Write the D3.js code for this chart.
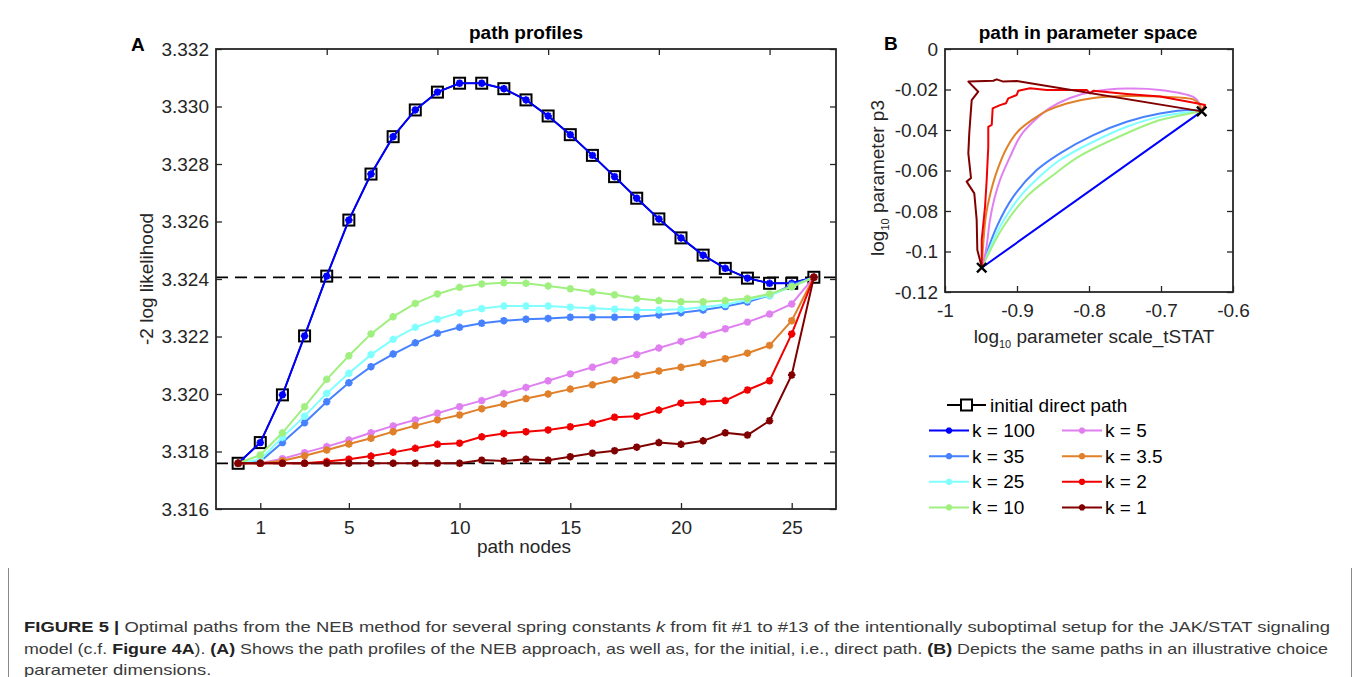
<!DOCTYPE html>
<html>
<head>
<meta charset="utf-8">
<script src="https://cdn.jsdelivr.net/npm/d3@7"></script>
<style>
  body { margin: 0; background: #fff; }
  svg { display: block; font-family: "Liberation Sans", Arial, Helvetica, sans-serif; }
</style>
</head>
<body>
<svg id="fig" width="1358" height="677"></svg>
<script>
"use strict";

// ---- panel A: path profiles ----
const nodes = [0, 1, 2, 3, 4, 5, 6, 7, 8, 9, 10, 11, 12, 13, 14, 15, 16, 17, 18, 19, 20, 21, 22, 23, 24, 25, 26];
const xTicksA = [1, 5, 10, 15, 20, 25];
const xTopTicksA = [4, 9, 14, 19, 24];
const yTicksA = [3.316, 3.318, 3.320, 3.322, 3.324, 3.326, 3.328, 3.330, 3.332];
const refLevels = [3.32406, 3.31759];

const initialPath = [3.31759, 3.31831, 3.31997, 3.32202, 3.32410, 3.32605, 3.32765, 3.32895, 3.32988, 3.33050, 3.33081, 3.33081, 3.33062, 3.33023, 3.32967, 3.32902, 3.32830, 3.32756, 3.32681, 3.32609, 3.32543, 3.32483, 3.32437, 3.32403, 3.32385, 3.32385, 3.32406];
const profK100 = [3.31759, 3.31831, 3.31997, 3.32202, 3.32410, 3.32605, 3.32765, 3.32895, 3.32988, 3.33050, 3.33081, 3.33081, 3.33062, 3.33023, 3.32967, 3.32902, 3.32830, 3.32756, 3.32681, 3.32609, 3.32543, 3.32483, 3.32437, 3.32403, 3.32385, 3.32385, 3.32406];
const profK35  = [3.31759, 3.31765, 3.31831, 3.31900, 3.31973, 3.32039, 3.32095, 3.32139, 3.32178, 3.32211, 3.32232, 3.32246, 3.32255, 3.32260, 3.32263, 3.32267, 3.32267, 3.32267, 3.32269, 3.32275, 3.32283, 3.32292, 3.32304, 3.32320, 3.32343, 3.32379, 3.32406];
const profK25  = [3.31759, 3.31772, 3.31849, 3.31923, 3.32002, 3.32072, 3.32137, 3.32190, 3.32232, 3.32260, 3.32283, 3.32297, 3.32306, 3.32306, 3.32306, 3.32302, 3.32298, 3.32295, 3.32292, 3.32292, 3.32295, 3.32302, 3.32311, 3.32327, 3.32343, 3.32373, 3.32406];
const profK10  = [3.31759, 3.31788, 3.31865, 3.31956, 3.32051, 3.32133, 3.32209, 3.32269, 3.32315, 3.32348, 3.32371, 3.32383, 3.32387, 3.32385, 3.32376, 3.32366, 3.32355, 3.32345, 3.32332, 3.32325, 3.32321, 3.32321, 3.32325, 3.32332, 3.32348, 3.32373, 3.32406];
const profK5   = [3.31759, 3.31759, 3.31775, 3.31796, 3.31817, 3.31840, 3.31865, 3.31889, 3.31910, 3.31933, 3.31956, 3.31977, 3.32002, 3.32023, 3.32046, 3.32070, 3.32093, 3.32116, 3.32137, 3.32160, 3.32183, 3.32205, 3.32227, 3.32250, 3.32278, 3.32313, 3.32406];
const profK3p5 = [3.31759, 3.31759, 3.31768, 3.31785, 3.31805, 3.31826, 3.31846, 3.31869, 3.31890, 3.31910, 3.31927, 3.31949, 3.31965, 3.31984, 3.32000, 3.32017, 3.32032, 3.32049, 3.32065, 3.32080, 3.32093, 3.32107, 3.32123, 3.32142, 3.32169, 3.32255, 3.32406];
const profK2   = [3.31759, 3.31759, 3.31759, 3.31759, 3.31765, 3.31773, 3.31784, 3.31797, 3.31811, 3.31825, 3.31829, 3.31851, 3.31863, 3.31869, 3.31875, 3.31886, 3.31898, 3.31919, 3.31923, 3.31944, 3.31968, 3.31973, 3.31977, 3.32014, 3.32046, 3.32209, 3.32406];
const profK1   = [3.31759, 3.31759, 3.31759, 3.31759, 3.31759, 3.31759, 3.31759, 3.31759, 3.31759, 3.31759, 3.31759, 3.31770, 3.31767, 3.31773, 3.31770, 3.31782, 3.31794, 3.31803, 3.31815, 3.31831, 3.31825, 3.31837, 3.31865, 3.31857, 3.31907, 3.32066, 3.32406];

// ---- panel B: path in parameter space, [log10 scale_tSTAT, log10 p3] ----
const xTicksB = [-1, -0.9, -0.8, -0.7, -0.6];
const yTicksB = [-0.12, -0.1, -0.08, -0.06, -0.04, -0.02, 0];
const pathEnds = [[-0.949, -0.108], [-0.6435, -0.0308]];
const pathK100 = [[-0.949, -0.108], [-0.6435, -0.0308]];
const pathK35  = [[-0.949, -0.108], [-0.9282, -0.0878], [-0.9051, -0.0729], [-0.8726, -0.0598], [-0.8403, -0.0515], [-0.7940, -0.0425], [-0.7476, -0.0359], [-0.7014, -0.0318], [-0.6551, -0.0301], [-0.6435, -0.0308]];
const pathK25  = [[-0.949, -0.108], [-0.9236, -0.0878], [-0.8958, -0.0729], [-0.8635, -0.0614], [-0.8403, -0.0548], [-0.7940, -0.0458], [-0.7476, -0.0384], [-0.7014, -0.0334], [-0.6551, -0.0310], [-0.6435, -0.0308]];
const pathK10  = [[-0.949, -0.108], [-0.9190, -0.0878], [-0.8865, -0.0729], [-0.8496, -0.0622], [-0.8125, -0.0528], [-0.7476, -0.0416], [-0.7014, -0.0351], [-0.6551, -0.0315], [-0.6435, -0.0308]];
const pathK5   = [[-0.949, -0.108], [-0.9431, -0.0993], [-0.9375, -0.0844], [-0.9319, -0.0746], [-0.9236, -0.0647], [-0.9097, -0.0533], [-0.8944, -0.0425], [-0.8750, -0.0351], [-0.8542, -0.0291], [-0.8264, -0.0242], [-0.7944, -0.0210], [-0.7476, -0.0195], [-0.7014, -0.0202], [-0.6551, -0.0237], [-0.6472, -0.0267], [-0.6435, -0.0308]];
const pathK3p5 = [[-0.949, -0.108], [-0.9465, -0.0943], [-0.9431, -0.0820], [-0.9375, -0.0721], [-0.9282, -0.0607], [-0.9143, -0.0489], [-0.8982, -0.0405], [-0.8774, -0.0346], [-0.8588, -0.0306], [-0.8310, -0.0269], [-0.7940, -0.0242], [-0.7476, -0.0232], [-0.7014, -0.0235], [-0.6551, -0.0249], [-0.6472, -0.0272], [-0.6435, -0.0308]];
const pathK2   = [[-0.949, -0.108], [-0.949, -0.0943], [-0.9444, -0.0779], [-0.9421, -0.0647], [-0.9399, -0.0483], [-0.9399, -0.0384], [-0.9351, -0.0375], [-0.9338, -0.0293], [-0.9236, -0.0277], [-0.9153, -0.0268], [-0.9121, -0.0244], [-0.9004, -0.0227], [-0.8981, -0.0206], [-0.8819, -0.0194], [-0.8587, -0.0202], [-0.8403, -0.0202], [-0.8032, -0.0202], [-0.7986, -0.0219], [-0.7940, -0.0206], [-0.7476, -0.0222], [-0.7014, -0.0235], [-0.6504, -0.0268], [-0.6389, -0.0277], [-0.6435, -0.0308]];
const pathK1   = [[-0.949, -0.1075], [-0.9551, -0.0993], [-0.9560, -0.0844], [-0.9593, -0.0713], [-0.9699, -0.0655], [-0.9639, -0.0637], [-0.9676, -0.0515], [-0.9663, -0.0416], [-0.9643, -0.0318], [-0.9629, -0.0252], [-0.9538, -0.0211], [-0.9676, -0.0161], [-0.9329, -0.0157], [-0.9282, -0.0150], [-0.9190, -0.0161], [-0.9004, -0.0158], [-0.6435, -0.0308]];

// ---- series meta ----
const kLabels = ["k = 100", "k = 35", "k = 25", "k = 10", "k = 5", "k = 3.5", "k = 2", "k = 1"];
const kColors = ["#0000ff", "#4682ff", "#80ffff", "#a0f080", "#e080f0", "#e0802a", "#f00000", "#800000"];
const kProfiles = [profK100, profK35, profK25, profK10, profK5, profK3p5, profK2, profK1];
const kPaths = [pathK100, pathK35, pathK25, pathK10, pathK5, pathK3p5, pathK2, pathK1];
const kSmooth = [false, true, true, true, true, true, false, false];

const AXIS = "#262626";
const FS = 19;
const svg = d3.select("#fig");

// MATLAB style '*' marker: plus and cross
const asterisk = {
  draw(ctx, size) {
    const r = Math.sqrt(size) / 2;
    const d = r * Math.SQRT1_2;
    ctx.moveTo(-r, 0); ctx.lineTo(r, 0);
    ctx.moveTo(0, -r); ctx.lineTo(0, r);
    ctx.moveTo(-d, -d); ctx.lineTo(d, d);
    ctx.moveTo(-d, d); ctx.lineTo(d, -d);
  }
};

function drawFrame(g, x, y, o) {
  const [x0, x1] = x.range();
  const [y0, y1] = y.range();
  const styleAxis = (sel) => {
    sel.select(".domain").remove();
    sel.selectAll(".tick line").attr("stroke", AXIS).attr("stroke-width", 1.3);
    sel.selectAll(".tick text").attr("fill", AXIS).attr("font-size", FS).attr("font-family", null);
  };
  g.append("g").attr("transform", `translate(0,${y0})`)
    .call(d3.axisBottom(x).tickValues(o.xTicks).tickSize(-6).tickPadding(12).tickFormat(o.fmtX))
    .call(styleAxis);
  g.append("g").attr("transform", `translate(0,${y1})`)
    .call(d3.axisTop(x).tickValues(o.xTopTicks).tickSize(-6).tickFormat(""))
    .call(styleAxis);
  g.append("g").attr("transform", `translate(${x0},0)`)
    .call(d3.axisLeft(y).tickValues(o.yTicks).tickSize(-6).tickPadding(7).tickFormat(o.fmtY))
    .call(styleAxis);
  g.append("g").attr("transform", `translate(${x1},0)`)
    .call(d3.axisRight(y).tickValues(o.yTicks).tickSize(-6).tickFormat(""))
    .call(styleAxis);
  g.append("rect")
    .attr("x", x0).attr("y", y1)
    .attr("width", x1 - x0).attr("height", y0 - y1)
    .attr("fill", "none").attr("stroke", AXIS).attr("stroke-width", 1.8);
}

const plainNum = (d) => String(+d.toFixed(3));

// ================= Panel A =================
const xA = d3.scaleLinear([-1, 27], [216, 836]);
const yA = d3.scaleLinear([3.316, 3.332], [509, 49]);
const gA = svg.append("g");

gA.append("defs").append("clipPath").attr("id", "clipA")
  .append("rect").attr("x", 216).attr("y", 49).attr("width", 620).attr("height", 460);

const plotA = gA.append("g").attr("clip-path", "url(#clipA)");

refLevels.forEach((v) => {
  plotA.append("line")
    .attr("x1", xA.range()[0]).attr("x2", xA.range()[1])
    .attr("y1", yA(v)).attr("y2", yA(v))
    .attr("stroke", "#000").attr("stroke-width", 1.8)
    .attr("stroke-dasharray", "12,7");
});

const lineA = d3.line().x((d, i) => xA(nodes[i])).y((d) => yA(d));

// initial direct path: black line with open squares
plotA.append("path").attr("d", lineA(initialPath))
  .attr("fill", "none").attr("stroke", "#000").attr("stroke-width", 1.6);
plotA.selectAll(".sq").data(initialPath).join("rect")
  .attr("x", (d, i) => xA(nodes[i]) - 5.5).attr("y", (d) => yA(d) - 5.5)
  .attr("width", 11).attr("height", 11)
  .attr("fill", "none").attr("stroke", "#000").attr("stroke-width", 2);

kProfiles.forEach((prof, k) => {
  plotA.append("path").attr("d", lineA(prof))
    .attr("fill", "none").attr("stroke", kColors[k]).attr("stroke-width", 2);
  plotA.selectAll(null).data(prof).join("path")
    .attr("transform", (d, i) => `translate(${xA(nodes[i])},${yA(d)})`)
    .attr("d", d3.symbol(asterisk, 56))
    .attr("fill", "none").attr("stroke", kColors[k]).attr("stroke-width", 2.2);
});

drawFrame(gA, xA, yA, {
  xTicks: xTicksA, xTopTicks: xTopTicksA, yTicks: yTicksA,
  fmtX: (d) => String(d), fmtY: d3.format(".3f")
});

gA.append("text").attr("x", 526).attr("y", 39)
  .attr("text-anchor", "middle").attr("font-size", FS).attr("font-weight", "bold")
  .attr("fill", "#000").text("path profiles");
gA.append("text").attr("x", 131).attr("y", 51)
  .attr("font-size", 19).attr("font-weight", "bold").attr("fill", "#000").text("A");
gA.append("text").attr("x", 524).attr("y", 553)
  .attr("text-anchor", "middle").attr("font-size", FS).attr("fill", AXIS).text("path nodes");
gA.append("text").attr("transform", "translate(153,279) rotate(-90)")
  .attr("text-anchor", "middle").attr("font-size", FS).attr("fill", AXIS).text("-2 log likelihood");

// ================= Panel B =================
const xB = d3.scaleLinear([-1, -0.6], [945, 1233]);
const yB = d3.scaleLinear([-0.12, 0], [292, 49]);
const gB = svg.append("g");

const lineB = d3.line().x((d) => xB(d[0])).y((d) => yB(d[1]));
const lineBs = d3.line().x((d) => xB(d[0])).y((d) => yB(d[1])).curve(d3.curveCatmullRom.alpha(0.5));

kPaths.forEach((p, k) => {
  gB.append("path").attr("d", (kSmooth[k] ? lineBs : lineB)(p))
    .attr("fill", "none").attr("stroke", kColors[k]).attr("stroke-width", 2)
    .attr("stroke-linejoin", "round");
});

gB.selectAll(".end").data(pathEnds).join("path")
  .attr("transform", (d) => `translate(${xB(d[0])},${yB(d[1])})`)
  .attr("d", d3.symbol(d3.symbolTimes, 60))
  .attr("fill", "none").attr("stroke", "#000").attr("stroke-width", 2.4);

drawFrame(gB, xB, yB, {
  xTicks: xTicksB, xTopTicks: xTicksB.slice(1, -1), yTicks: yTicksB,
  fmtX: plainNum, fmtY: plainNum
});

gB.append("text").attr("x", 1088).attr("y", 39)
  .attr("text-anchor", "middle").attr("font-size", FS).attr("font-weight", "bold")
  .attr("fill", "#000").text("path in parameter space");
gB.append("text").attr("x", 884).attr("y", 50)
  .attr("font-size", 19).attr("font-weight", "bold").attr("fill", "#000").text("B");

const xLabB = gB.append("text").attr("x", 1094).attr("y", 343)
  .attr("text-anchor", "middle").attr("font-size", FS).attr("fill", AXIS);
xLabB.append("tspan").text("log");
xLabB.append("tspan").attr("font-size", 11).attr("dy", 5).text("10");
xLabB.append("tspan").attr("dy", -5).text(" parameter scale_tSTAT");

const yLabB = gB.append("text").attr("transform", "translate(884,178) rotate(-90)")
  .attr("text-anchor", "middle").attr("font-size", FS).attr("fill", AXIS);
yLabB.append("tspan").text("log");
yLabB.append("tspan").attr("font-size", 11).attr("dy", 5).text("10");
yLabB.append("tspan").attr("dy", -5).text(" parameter p3");

// ================= Legend =================
const gL = svg.append("g");
const rowY = (r) => 405 + r * 25.6;

gL.append("line").attr("x1", 947).attr("x2", 986).attr("y1", rowY(0)).attr("y2", rowY(0))
  .attr("stroke", "#000").attr("stroke-width", 1.8);
gL.append("rect").attr("x", 961).attr("y", rowY(0) - 5.5).attr("width", 11).attr("height", 11)
  .attr("fill", "#fff").attr("stroke", "#000").attr("stroke-width", 2);
gL.append("text").attr("x", 990).attr("y", rowY(0)).attr("dy", "0.35em")
  .attr("font-size", FS).attr("fill", "#000").text("initial direct path");

kLabels.forEach((lab, k) => {
  const col = Math.floor(k / 4);
  const r = (k % 4) + 1;
  const lx = col === 0 ? 929 : 1062;
  const y = rowY(r);
  gL.append("line").attr("x1", lx).attr("x2", lx + 40).attr("y1", y).attr("y2", y)
    .attr("stroke", kColors[k]).attr("stroke-width", 2);
  gL.append("path").attr("transform", `translate(${lx + 20},${y})`)
    .attr("d", d3.symbol(asterisk, 40))
    .attr("fill", "none").attr("stroke", kColors[k]).attr("stroke-width", 2.2);
  gL.append("text").attr("x", lx + 43).attr("y", y).attr("dy", "0.35em")
    .attr("font-size", FS).attr("fill", "#000").text(lab);
});

// ================= Caption =================
const gC = svg.append("g");
gC.append("path").attr("d", "M8.5,568V677M1351.5,568V677")
  .attr("stroke", "#8a8a8a").attr("stroke-width", 1).attr("fill", "none");

const captionLines = [
  [["FIGURE 5 | ", "b"], ["Optimal paths from the NEB method for several spring constants ", ""], ["k", "i"],
   [" from fit #1 to #13 of the intentionally suboptimal setup for the JAK/STAT signaling", ""]],
  [["model (c.f. ", ""], ["Figure 4A", "b"], ["). ", ""], ["(A)", "b"],
   [" Shows the path profiles of the NEB approach, as well as, for the initial, i.e., direct path. ", ""],
   ["(B)", "b"], [" Depicts the same paths in an illustrative choice", ""]],
  [["parameter dimensions.", ""]]
];
const captionWidths = [1306, 1304];

const capTexts = captionLines.map((segs, li) => {
  const t = gC.append("text").attr("x", 24).attr("y", 632 + li * 21.5)
    .attr("font-size", 14.5).attr("fill", "#3a3a3a").attr("xml:space", "preserve");
  segs.forEach(([s, st]) => {
    const ts = t.append("tspan").text(s);
    if (st === "b") ts.attr("font-weight", "bold").attr("fill", "#222");
    if (st === "i") ts.attr("font-style", "italic");
  });
  return t;
});
// stretch to the measured line widths, last line uses the same ratio
const stretch = captionWidths[0] / capTexts[0].node().getComputedTextLength();
capTexts.forEach((t, li) => {
  const w = captionWidths[li] || t.node().getComputedTextLength() * stretch;
  t.attr("textLength", w).attr("lengthAdjust", "spacingAndGlyphs");
});
</script>
</body>
</html>
